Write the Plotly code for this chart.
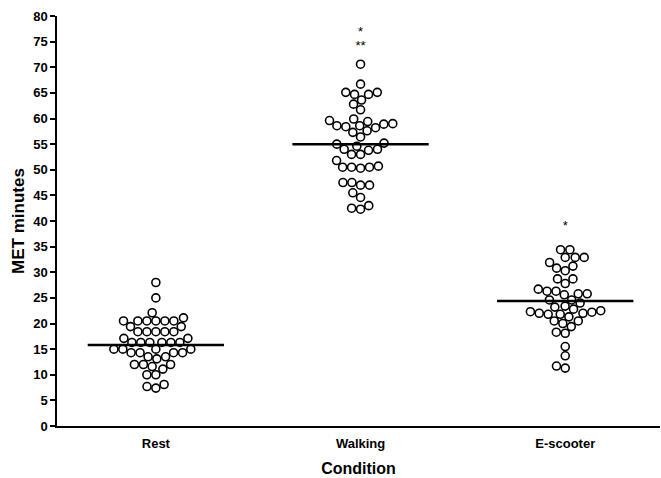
import math
import plotly.graph_objects as go

categories = ["Rest", "Walking", "E-scooter"]

rest_values = [28.0, 25.0, 22.1, 21.1, 20.5, 20.5, 20.5, 20.5, 20.5, 20.5,
               19.4, 19.4, 18.4, 18.4, 18.4, 18.4, 18.4, 17.1, 17.1,
               16.3, 16.3, 16.3, 16.3, 16.3, 16.3, 15.0, 15.0, 15.0, 15.0,
               14.3, 14.3, 14.3, 14.3, 13.5, 13.5, 13.1, 12.0, 12.0, 12.0,
               11.6, 11.1, 10.0, 10.0, 8.1, 7.7, 7.4]

walking_values = [70.6, 66.7, 65.1, 65.1, 64.7, 64.7, 63.6, 62.8, 61.7,
                  59.9, 59.4, 59.0, 58.9, 58.2, 58.6, 58.4, 58.6, 59.6,
                  57.3, 57.6, 56.4, 55.2, 54.6, 54.0, 54.0, 55.0, 53.8,
                  53.0, 53.0, 51.8, 50.5, 50.5, 50.3, 50.5, 50.7,
                  47.5, 47.0, 47.0, 47.5, 45.5, 44.6, 43.0, 42.3, 42.5]

escooter_values = [34.4, 34.4, 32.9, 32.9, 32.9, 31.9, 31.2, 30.3, 30.8,
                   28.7, 28.7, 27.8, 26.3, 25.8, 25.8, 26.3, 25.6, 26.7,
                   24.6, 24.0, 24.6, 23.4, 22.8, 22.3, 22.0, 21.8, 21.8,
                   22.0, 21.3, 22.2, 22.5, 23.2, 20.5, 20.0, 20.5, 19.4,
                   18.3, 18.1, 15.5, 13.7, 11.3, 11.7]

medians = [15.8, 55.0, 24.4]

# significance marks: (category index, y value, text)
marks_cat = [1, 1, 2]
marks_y = [76.8, 74.0, 38.9]
marks_text = ["*", "**", "*"]

groups = [rest_values, walking_values, escooter_values]

# pixel scales used only to lay out the swarm (no overlap of markers)
PX_PER_Y = 410 / 80.0
PX_PER_CAT = 205.0
D = 9.0  # marker spacing in px


def swarm(values):
    order = sorted(range(len(values)), key=lambda i: values[i])
    placed = []
    offsets = [0.0] * len(values)
    for i in order:
        y = values[i] * PX_PER_Y
        intervals = []
        for (px, py) in placed:
            dy = abs(y - py)
            if dy < D:
                w = math.sqrt(D * D - dy * dy)
                intervals.append((px - w, px + w))
        cands = [0.0]
        for a, b in intervals:
            cands += [a, b]
        cands.sort(key=lambda c: (abs(c), c))
        for c in cands:
            ok = all(not (a + 1e-6 < c < b - 1e-6) for a, b in intervals)
            if ok:
                offsets[i] = c
                break
        placed.append((offsets[i], y))
    return offsets


fig = go.Figure()
for k, vals in enumerate(groups):
    offs = swarm(vals)
    xs = [k + o / PX_PER_CAT for o in offs]
    fig.add_trace(go.Scatter(
        x=xs, y=vals, mode="markers",
        marker=dict(symbol="circle-open", size=8, color="black",
                    line=dict(width=1.6, color="black")),
        showlegend=False, hoverinfo="y"))
    fig.add_trace(go.Scatter(
        x=[k - 0.333, k + 0.333], y=[medians[k], medians[k]], mode="lines",
        line=dict(color="black", width=2.5), showlegend=False))

fig.add_trace(go.Scatter(
    x=marks_cat, y=marks_y, mode="text", text=marks_text,
    textfont=dict(family="Liberation Sans", size=13, color="black"),
    showlegend=False))

fig.update_layout(
    width=661, height=478,
    margin=dict(l=57, r=1, t=16, b=52, autoexpand=False),
    paper_bgcolor="white", plot_bgcolor="white",
    font=dict(family="Liberation Sans", color="black"),
)
fig.update_xaxes(
    range=[-0.483, 2.463], tickvals=[0, 1, 2], ticktext=categories,
    tickfont=dict(size=13, weight="bold"), showgrid=False, zeroline=False,
    showline=True, linecolor="black", linewidth=1.5, ticks="", automargin=False,
    ticklabelstandoff=5,
    title=dict(text="Condition", font=dict(size=16, weight="bold"), standoff=12),
)
fig.update_yaxes(
    range=[0, 80], dtick=5, tick0=0, ticks="outside", ticklen=5, tickwidth=1.5,
    tickcolor="black", tickfont=dict(size=13, weight="bold"), automargin=False,
    showgrid=False, zeroline=False, showline=True, linecolor="black", linewidth=1.5,
    title=dict(text="MET minutes", font=dict(size=17, weight="bold"), standoff=4),
)

fig.write_html("out.html", config={"displayModeBar": False},
               post_script="document.body.style.margin='0';document.body.style.overflow='hidden';")
